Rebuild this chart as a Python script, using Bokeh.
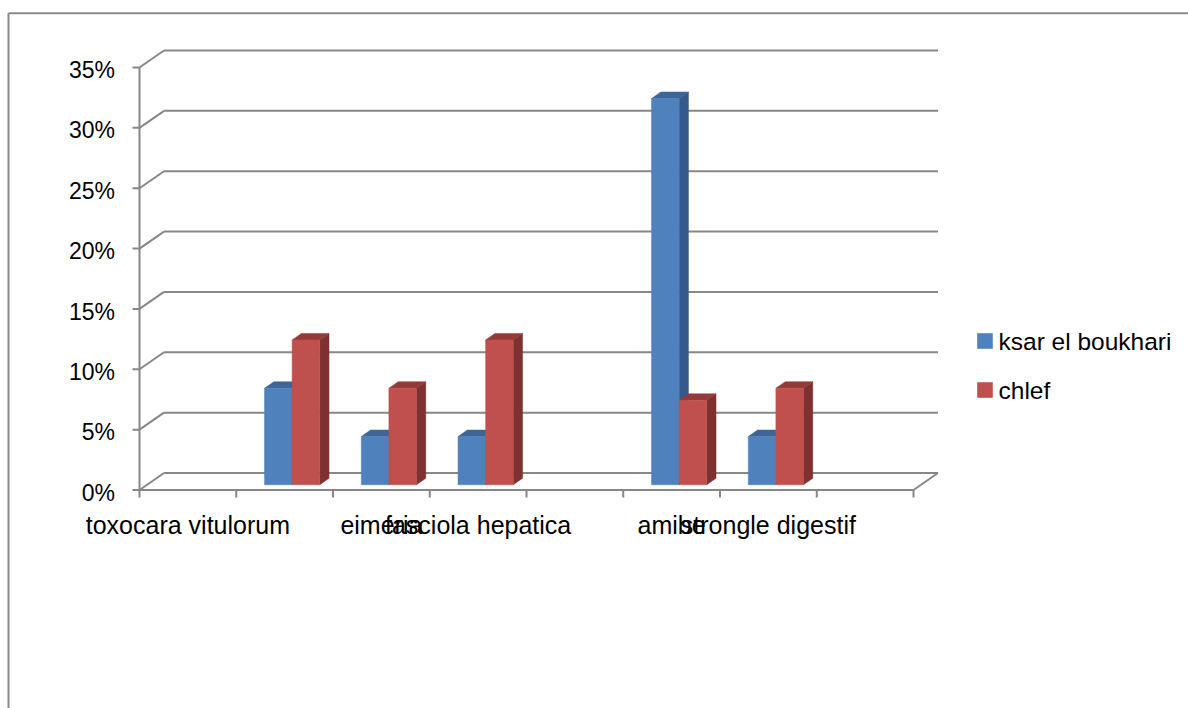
import numpy as np
from bokeh.plotting import figure
from bokeh.models import Range1d
from bokeh.core.properties import value
from bokeh.embed import file_html
from bokeh.resources import INLINE

# ---------------- data ----------------
categories = ["toxocara vitulorum", "", "eimeria", "fasciola hepatica", "", "amibe", "strongle digestif", ""]
ksar = [0, 8, 4, 4, 0, 32, 4, 0]
chlef = [0, 12, 8, 12, 0, 7, 8, 0]
series_names = ["ksar el boukhari", "chlef"]
y_ticks = [0, 5, 10, 15, 20, 25, 30, 35]
y_tick_labels = ["0%", "5%", "10%", "15%", "20%", "25%", "30%", "35%"]

# ---------------- layout constants (pixels) ----------------
W, H = 1188, 708
X0 = 139.0          # pixel x of front axis
SLOT = 96.75        # pixel width of one category slot
Y0 = 489.5          # pixel y of front 0% line
UNIT = 60.357 / 5   # pixels per 1%

def dxp(px):
    return px / SLOT

def dyp(px):
    return px / UNIT

def X(px):
    return (px - X0) / SLOT

def Y(py):
    return (Y0 - py) / UNIT

FONT = "Liberation Sans"
GRID = "#878787"
BLUE, BLUE_SIDE, BLUE_TOP = "#4F81BD", "#35598A", "#3D6598"
RED, RED_SIDE, RED_TOP = "#C0504D", "#7D3130", "#943B39"

n = len(categories)
ymax = y_ticks[-1]

p = figure(width=W, height=H, x_range=Range1d(X(0), X(W)), y_range=Range1d(Y(H), Y(0)),
           output_backend="svg", toolbar_location=None, min_border=0,
           x_axis_location=None, y_axis_location=None, title=None)
p.grid.visible = False
p.outline_line_color = None
p.background_fill_color = "white"
p.border_fill_color = "white"

# outer chart border (top and left visible)
p.segment(x0=[X(8), X(8)], y0=[Y(12.7), Y(12.7)], x1=[X(W + 5), X(8)], y1=[Y(12.7), Y(H + 5)],
          line_color="#8a8a8a", line_width=2)

# depth of floor / walls
DX = dxp(24.5)
DY = dyp(17.0)

# back wall gridlines and side wall diagonals
yt = np.array(y_ticks, dtype=float)
p.segment(x0=np.full_like(yt, DX), y0=yt + DY, x1=np.full_like(yt, n + DX), y1=yt + DY,
          line_color=GRID, line_width=2)
p.segment(x0=np.zeros_like(yt), y0=yt, x1=np.full_like(yt, DX), y1=yt + DY,
          line_color=GRID, line_width=2)
# floor front edge and right diagonal
p.segment(x0=[0, n], y0=[0, 0], x1=[n, n + DX], y1=[0, DY], line_color=GRID, line_width=2)
# front vertical axis
p.segment(x0=[0], y0=[0], x1=[0], y1=[ymax], line_color=GRID, line_width=2)
# y ticks
p.segment(x0=np.full_like(yt, -dxp(7)), y0=yt, x1=np.zeros_like(yt), y1=yt,
          line_color=GRID, line_width=2)
# x ticks
xt = np.arange(n + 1, dtype=float)
p.segment(x0=xt, y0=np.zeros_like(xt), x1=xt, y1=np.full_like(xt, -dyp(7.5)),
          line_color=GRID, line_width=2)

# ---------------- bars ----------------
f0 = 0.306
bx0, by0 = f0 * DX, f0 * DY
bdx, bdy = dxp(9.3), dyp(6.5)
bw = dxp(27.6)

def draw_series(vals, offset, front, side, top):
    idx = [i for i, v in enumerate(vals) if v > 0]
    lefts = np.array([i + 0.5 + bx0 + offset * bw for i in idx])
    rights = lefts + bw
    tops = np.array([by0 + vals[i] for i in idx])
    bottoms = np.full_like(tops, by0)
    side_xs = [[r, r, r + bdx, r + bdx] for r in rights]
    side_ys = [[b, t, t + bdy, b + bdy] for b, t in zip(bottoms, tops)]
    top_xs = [[l, r, r + bdx, l + bdx] for l, r in zip(lefts, rights)]
    top_ys = [[t, t, t + bdy, t + bdy] for t in tops]
    p.patches(side_xs, side_ys, fill_color=side, line_color=side, line_width=0.5)
    p.patches(top_xs, top_ys, fill_color=top, line_color=top, line_width=0.5)
    p.quad(left=lefts, right=rights, bottom=bottoms, top=tops,
           fill_color=front, line_color=front, line_width=0.5)

draw_series(ksar, -1, BLUE, BLUE_SIDE, BLUE_TOP)
draw_series(chlef, 0, RED, RED_SIDE, RED_TOP)

# ---------------- labels ----------------
p.text(x=np.full_like(yt, X(114.5)), y=yt - dyp(2.6), text=y_tick_labels,
       text_font=value(FONT), text_font_size="23px", text_color="#000000",
       text_align="right", text_baseline="middle")

cx = [i + 0.5 for i, c in enumerate(categories) if c]
ct = [c for c in categories if c]
p.text(x=cx, y=[Y(524.5)] * len(cx), text=ct,
       text_font=value(FONT), text_font_size="25px", text_color="#000000",
       text_align="center", text_baseline="middle")

# ---------------- legend ----------------
leg_top = [332.7, 381.7]
p.quad(left=[X(976.7)] * 2, right=[X(992.3)] * 2,
       top=[Y(t) for t in leg_top], bottom=[Y(t + 15.6) for t in leg_top],
       fill_color=[BLUE, RED], line_color=None)
p.text(x=[X(998)] * 2, y=[Y(t + 8.1) for t in leg_top], text=series_names,
       text_font=value(FONT), text_font_size="24.5px", text_color="#000000",
       text_align="left", text_baseline="middle")

open("out.html", "w").write(file_html(p, INLINE))
